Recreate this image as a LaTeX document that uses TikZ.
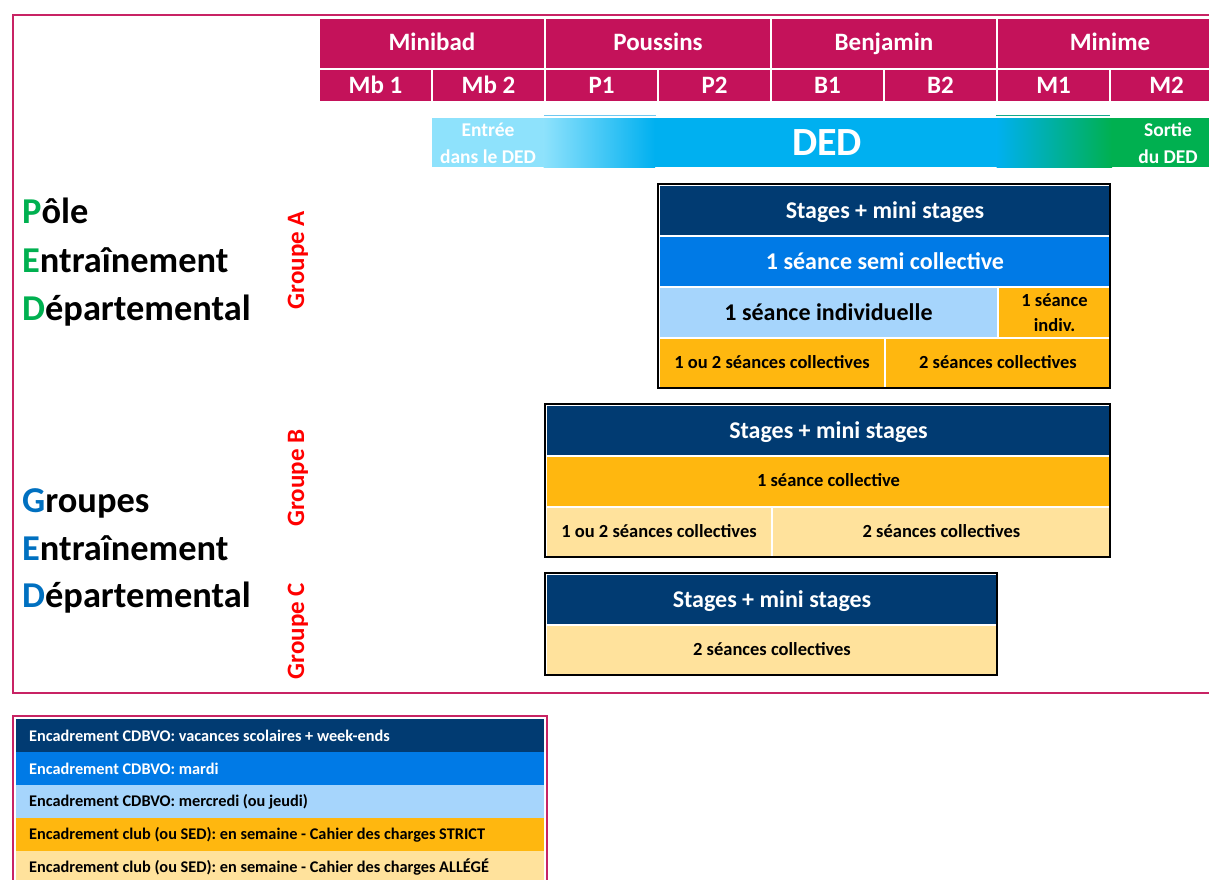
\documentclass[tikz,border=0pt]{standalone}
\usepackage{fontspec}
\setmainfont{Carlito}
\definecolor{mag}{RGB}{196,18,90}
\definecolor{framec}{RGB}{200,35,100}
\definecolor{navy}{RGB}{1,59,114}
\definecolor{mblue}{RGB}{0,122,230}
\definecolor{lblue}{RGB}{166,213,252}
\definecolor{orng}{RGB}{255,183,15}
\definecolor{lyel}{RGB}{255,226,156}
\definecolor{lcyan}{RGB}{142,226,252}
\definecolor{cyantwo}{RGB}{0,176,240}
\definecolor{grn}{RGB}{0,176,80}
\definecolor{dblue}{RGB}{0,112,192}
\definecolor{gred}{RGB}{255,0,0}
\newcommand\fs[2]{\fontsize{#1}{#2}\selectfont}
% name x1 y1 x2 y2 fill options text
\newcommand\mycell[8]{\node[cell,fill=#6,minimum width={#4-#2},minimum height={#5-#3},#7] (#1) at (#2,#3) {#8};}
\newcommand\legrow[6]{\node[legcell,fill=#4,minimum height={#3-#2}] (#1) at (16,#2) {};
  \node[anchor=west,inner sep=0pt,text=#5,font={\bfseries\fs{16.3}{19}}] (#1t) at (29,{(#2+#3)/2}) {#6};}
\tikzset{
  cell/.style={draw=white,line width=2pt,inner sep=0pt,anchor=north west,align=center},
  legcell/.style={inner sep=0pt,anchor=north west,minimum width=528pt},
  hdr/.style={text=white,font={\bfseries\fs{25}{30}},text height=17pt,text depth=4pt},
  hdrtwo/.style={text=white,font={\bfseries\fs{25}{30}},text height=17pt,text depth=2pt},
  big/.style={font={\bfseries\fs{24}{29}},text height=18pt,text depth=3pt},
  mid/.style={font={\bfseries\fs{18.5}{22}},text height=13.5pt,text depth=3pt},
  blockline/.style={draw=black,line width=1.3pt},
  lefttxt/.style={anchor=base west,inner sep=0pt,font={\bfseries\fs{36.4}{42}}},
  grp/.style={rotate=90,anchor=base,text=gred,font={\bfseries\fs{25}{29}}}
}
\begin{document}
\begin{tikzpicture}[x=1pt,y=-1pt]
\useasboundingbox (0,0) rectangle (1209,879);
\clip (0,0) rectangle (1209,879);
% outer frame
\draw[framec,line width=2.5pt] (13,15) rectangle (1240,693);
% header row 1
\mycell{minibad}{318}{17}{544}{68}{mag}{hdr}{Minibad}
\mycell{poussins}{544}{17}{770}{68}{mag}{hdr}{Poussins}
\mycell{benjamin}{770}{17}{996}{68}{mag}{hdr}{Benjamin}
\mycell{minime}{996}{17}{1222}{68}{mag}{hdr}{Minime}
% header row 2
\mycell{mbA}{318}{68}{431}{101}{mag}{hdrtwo}{Mb 1}
\mycell{mbB}{431}{68}{544}{101}{mag}{hdrtwo}{Mb 2}
\mycell{pA}{544}{68}{657}{101}{mag}{hdrtwo}{P1}
\mycell{pB}{657}{68}{770}{101}{mag}{hdrtwo}{P2}
\mycell{bA}{770}{68}{883}{101}{mag}{hdrtwo}{B1}
\mycell{bB}{883}{68}{996}{101}{mag}{hdrtwo}{B2}
\mycell{mA}{996}{68}{1109}{101}{mag}{hdrtwo}{M1}
\mycell{mB}{1109}{68}{1222}{101}{mag}{hdrtwo}{M2}
% DED bar
\fill[lcyan] (432,118) rectangle (544,167);
\shade[left color=lcyan,right color=cyantwo] (543.5,118) rectangle (655,167);
\fill[cyantwo] (654.5,118) rectangle (997,167);
\shade[left color=cyantwo,right color=grn] (996.5,118) rectangle (1112,167);
\fill[grn] (1111.5,118) rectangle (1212,167);
\draw[line width=1pt,color={rgb,255:red,110;green,200;blue,240}] (544,115) -- (656,115);
\draw[line width=1pt,color={rgb,255:red,20;green,170;blue,140}] (996,115) -- (1110,115);
\node[text=white,font={\bfseries\fs{40}{48}}] (ded) at (827,143) {DED};
\node[text=white,align=center,font={\bfseries\fs{19.5}{27}}] (entree) at (488,143) {Entrée\\dans le DED};
\node[text=white,align=center,font={\bfseries\fs{19.5}{27}}] (sortie) at (1168,143) {Sortie\\du DED};
% left labels
\node[lefttxt] (l1) at (22,223) {\textcolor{grn}{P}ôle};
\node[lefttxt] (l2) at (22,272) {\textcolor{grn}{E}ntraînement};
\node[lefttxt] (l3) at (22,320) {\textcolor{grn}{D}épartemental};
\node[lefttxt] (l4) at (22,512) {\textcolor{dblue}{G}roupes};
\node[lefttxt] (l5) at (22,560) {\textcolor{dblue}{E}ntraînement};
\node[lefttxt] (l6) at (22,607) {\textcolor{dblue}{D}épartemental};
\node[grp] (ga) at (304,260) {Groupe A};
\node[grp] (gb) at (304,478) {Groupe B};
\node[grp] (gc) at (304,631) {Groupe C};
% block A
\fill[black] (660,186) rectangle (1112,389);
\mycell{aone}{658}{184}{1110}{235}{navy}{big,text=white}{Stages + mini stages}
\mycell{atwo}{658}{235}{1110}{286}{mblue}{big,text=white}{1 séance semi collective}
\mycell{athree}{658}{286}{997}{337}{lblue}{big}{1 séance individuelle}
\mycell{afour}{997}{286}{1110}{337}{orng}{font={\bfseries\fs{18.5}{25}}}{1 séance\\indiv.}
\mycell{afive}{658}{337}{884}{388}{orng}{mid}{1 ou 2 séances collectives}
\mycell{asix}{884}{337}{1110}{388}{orng}{mid}{2 séances collectives}
\draw[blockline] (658,184) rectangle (1110,388);
% block B
\fill[black] (547,406) rectangle (1112,558);
\mycell{bone}{545}{404}{1110}{455}{navy}{big,text=white}{Stages + mini stages}
\mycell{btwo}{545}{455}{1110}{506}{orng}{mid}{1 séance collective}
\mycell{bthree}{545}{506}{771}{557}{lyel}{mid}{1 ou 2 séances collectives}
\mycell{bfour}{771}{506}{1110}{557}{lyel}{mid}{2 séances collectives}
\draw[blockline] (545,404) rectangle (1110,557);
% block C
\fill[black] (547,575) rectangle (999,677);
\mycell{cone}{545}{573}{997}{624}{navy}{big,text=white}{Stages + mini stages}
\mycell{ctwo}{545}{624}{997}{675}{lyel}{mid}{2 séances collectives}
\draw[blockline] (545,573) rectangle (997,675);
% legend
\draw[framec,line width=2pt] (13,716) rectangle (547,900);
\legrow{lgA}{719}{752}{navy}{white}{Encadrement CDBVO: vacances scolaires + week-ends}
\legrow{lgB}{752}{785}{mblue}{white}{Encadrement CDBVO: mardi}
\legrow{lgC}{785}{818}{lblue}{black}{Encadrement CDBVO: mercredi (ou jeudi)}
\legrow{lgD}{818}{851}{orng}{black}{Encadrement club (ou SED): en semaine - Cahier des charges STRICT}
\legrow{lgE}{851}{884}{lyel}{black}{Encadrement club (ou SED): en semaine - Cahier des charges ALLÉGÉ}
\end{tikzpicture}
\end{document}
